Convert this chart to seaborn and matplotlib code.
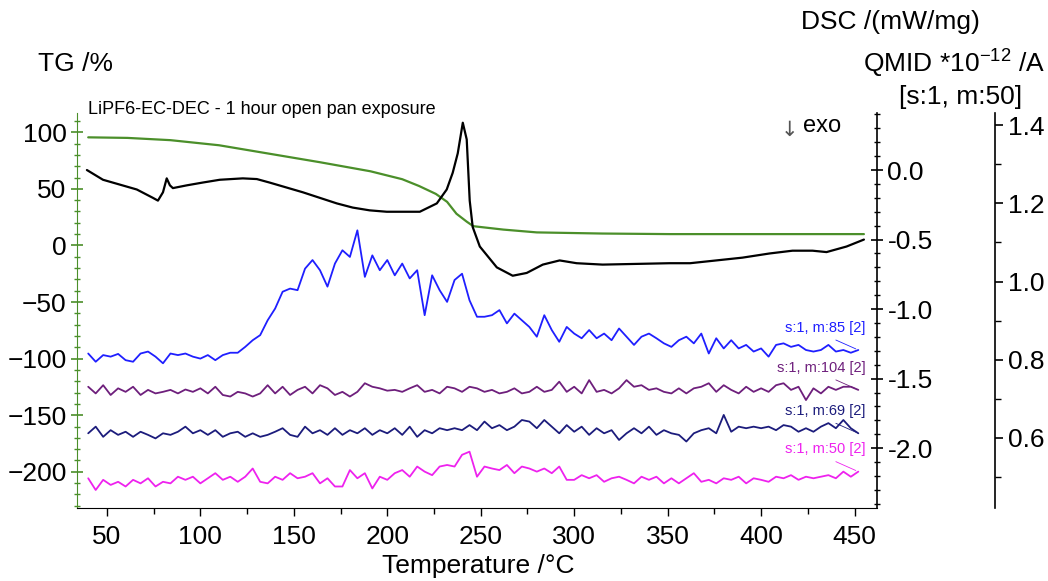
import numpy as np
import pandas as pd
import seaborn as sns
import matplotlib.pyplot as plt
from matplotlib.ticker import MultipleLocator

# TG curve (left axis, %)
tg_temp = [40, 61, 84, 110, 137, 164, 191, 208, 217, 226, 232, 237, 242.5, 246, 262, 280, 315, 351, 400, 455]
tg_pct = [95.5, 95, 93, 88.5, 81, 73.5, 65.5, 58.5, 52.5, 45.5, 38.5, 28, 21, 17, 14, 11.5, 10.5, 10, 10, 10]

# DSC curve (mW/mg)
dsc_temp = [39.3, 47.9, 66, 74.6, 77.3, 80, 82, 83.7, 85.3, 92.8, 101.3, 110.4, 122.7, 130.2, 137,
            154.8, 173, 181.5, 190.6, 199.7, 217.4, 226.5, 231.8, 235, 237.7, 240.4, 242.5, 244.1,
            245.7, 249.5, 258.6, 267.1, 274.6, 283.2, 292.2, 301.3, 315.2, 351, 362, 390, 404.5,
            416.8, 427.5, 435, 445.7, 455]
dsc_val = [0.0, -0.07, -0.14, -0.2, -0.22, -0.16, -0.06, -0.11, -0.13, -0.11, -0.09, -0.07, -0.06,
           -0.065, -0.09, -0.16, -0.24, -0.27, -0.29, -0.30, -0.30, -0.24, -0.14, -0.02, 0.12, 0.34,
           0.22, -0.22, -0.41, -0.55, -0.70, -0.76, -0.74, -0.68, -0.65, -0.67, -0.68, -0.67, -0.67,
           -0.63, -0.60, -0.58, -0.58, -0.59, -0.55, -0.50]

# QMID ion currents (*10^-12 A), sampled every 4 degC from 40 to 452
ms_temp = list(range(40, 453, 4))
m85 = [0.816, 0.795, 0.812, 0.808, 0.815, 0.799, 0.795, 0.816, 0.821, 0.808,
       0.791, 0.816, 0.812, 0.816, 0.808, 0.803, 0.812, 0.799, 0.812, 0.818,
       0.818, 0.833, 0.850, 0.863, 0.901, 0.931, 0.974, 0.982, 0.978, 1.033,
       1.055, 1.029, 0.987, 1.046, 1.080, 1.063, 1.131, 1.012, 1.067, 1.029,
       1.055, 1.016, 1.046, 1.008, 1.029, 0.914, 1.016, 0.978, 0.948, 1.004,
       1.020, 0.952, 0.910, 0.910, 0.914, 0.927, 0.893, 0.918, 0.901, 0.884,
       0.859, 0.914, 0.876, 0.846, 0.884, 0.867, 0.855, 0.876, 0.855, 0.867,
       0.850, 0.880, 0.859, 0.838, 0.859, 0.867, 0.855, 0.842, 0.833, 0.850,
       0.859, 0.842, 0.867, 0.816, 0.855, 0.829, 0.850, 0.829, 0.838, 0.821,
       0.829, 0.808, 0.838, 0.842, 0.833, 0.838, 0.825, 0.821, 0.825, 0.838,
       0.821, 0.825, 0.818, 0.825]
m104 = [0.731, 0.714, 0.735, 0.710, 0.727, 0.718, 0.731, 0.710, 0.723, 0.714,
        0.718, 0.723, 0.714, 0.724, 0.718, 0.727, 0.714, 0.731, 0.710, 0.706,
        0.718, 0.714, 0.706, 0.714, 0.735, 0.714, 0.731, 0.710, 0.723, 0.731,
        0.714, 0.735, 0.727, 0.710, 0.718, 0.706, 0.718, 0.740, 0.731, 0.727,
        0.721, 0.723, 0.718, 0.727, 0.735, 0.718, 0.723, 0.714, 0.731, 0.727,
        0.718, 0.731, 0.727, 0.718, 0.723, 0.714, 0.718, 0.727, 0.714, 0.718,
        0.731, 0.718, 0.723, 0.744, 0.718, 0.731, 0.714, 0.748, 0.718, 0.723,
        0.714, 0.727, 0.748, 0.731, 0.735, 0.723, 0.727, 0.718, 0.714, 0.727,
        0.714, 0.727, 0.731, 0.740, 0.718, 0.735, 0.723, 0.714, 0.731, 0.718,
        0.727, 0.718, 0.735, 0.740, 0.723, 0.731, 0.697, 0.727, 0.714, 0.731,
        0.723, 0.731, 0.731, 0.723]
m69 = [0.612, 0.629, 0.603, 0.620, 0.608, 0.616, 0.603, 0.616, 0.608, 0.599,
       0.612, 0.608, 0.616, 0.629, 0.612, 0.620, 0.608, 0.620, 0.603, 0.612,
       0.616, 0.603, 0.612, 0.603, 0.608, 0.616, 0.625, 0.608, 0.603, 0.629,
       0.612, 0.620, 0.608, 0.625, 0.608, 0.620, 0.612, 0.625, 0.608, 0.620,
       0.612, 0.625, 0.608, 0.629, 0.603, 0.620, 0.612, 0.625, 0.620, 0.625,
       0.620, 0.633, 0.620, 0.642, 0.625, 0.633, 0.620, 0.629, 0.646, 0.642,
       0.625, 0.646, 0.629, 0.612, 0.633, 0.616, 0.629, 0.608, 0.625, 0.612,
       0.620, 0.595, 0.612, 0.625, 0.612, 0.629, 0.608, 0.620, 0.612, 0.608,
       0.591, 0.612, 0.620, 0.625, 0.612, 0.659, 0.616, 0.629, 0.625, 0.629,
       0.625, 0.629, 0.620, 0.633, 0.629, 0.616, 0.625, 0.616, 0.629, 0.638,
       0.625, 0.646, 0.625, 0.612]
m50 = [0.497, 0.467, 0.493, 0.480, 0.488, 0.476, 0.493, 0.484, 0.497, 0.476,
       0.488, 0.484, 0.501, 0.493, 0.501, 0.484, 0.497, 0.510, 0.493, 0.501,
       0.488, 0.501, 0.522, 0.488, 0.484, 0.501, 0.493, 0.510, 0.497, 0.501,
       0.510, 0.484, 0.497, 0.476, 0.476, 0.518, 0.497, 0.510, 0.471, 0.501,
       0.493, 0.510, 0.518, 0.501, 0.527, 0.514, 0.505, 0.527, 0.531, 0.527,
       0.557, 0.565, 0.501, 0.527, 0.522, 0.518, 0.531, 0.510, 0.527, 0.522,
       0.514, 0.522, 0.510, 0.527, 0.493, 0.493, 0.505, 0.497, 0.505, 0.488,
       0.497, 0.501, 0.493, 0.484, 0.501, 0.493, 0.501, 0.484, 0.497, 0.484,
       0.497, 0.510, 0.488, 0.493, 0.484, 0.497, 0.493, 0.501, 0.484, 0.497,
       0.493, 0.488, 0.501, 0.497, 0.505, 0.493, 0.501, 0.497, 0.501, 0.505,
       0.497, 0.514, 0.501, 0.514]

ms_labels = ["s:1, m:85 [2]", "s:1, m:104 [2]", "s:1, m:69 [2]", "s:1, m:50 [2]"]
ms_colors = ["#1f1fff", "#6e1f7c", "#1c1c7c", "#ee22ee"]
green = "#4b8f2a"

sns.set_style("white")
plt.rcParams['font.family'] = ['Liberation Sans', 'DejaVu Sans']
plt.rcParams['mathtext.fontset'] = 'custom'
plt.rcParams['mathtext.rm'] = 'Liberation Sans'
plt.rcParams['text.color'] = 'black'
plt.rcParams['xtick.color'] = 'black'
plt.rcParams['ytick.color'] = 'black'
plt.rcParams['axes.labelcolor'] = 'black'

fig = plt.figure(figsize=(10.48, 5.81), dpi=100)
ax = fig.add_axes([77/1048, 1 - 508/581, 800/1048, 395/581])
ax2 = ax.twinx()
ax3 = ax.twinx()

# TG
sns.lineplot(x=tg_temp, y=tg_pct, ax=ax, color=green, lw=1.6, estimator=None, sort=False)
ax.set_xlim(34, 462)
ax.set_ylim(-232, 117)

# DSC
sns.lineplot(x=dsc_temp, y=dsc_val, ax=ax2, color="black", lw=1.6, estimator=None, sort=False)
ax2.set_ylim(-2.43, 0.41)

# MS
ms_df = pd.DataFrame({"temp": ms_temp * 4,
                      "current": m85 + m104 + m69 + m50,
                      "ion": np.repeat(ms_labels, len(ms_temp))})
sns.lineplot(data=ms_df, x="temp", y="current", hue="ion", palette=ms_colors,
             ax=ax3, lw=1.3, estimator=None, sort=False, legend=False)
ax3.set_ylim(0.421, 1.431)
for lab, vals, c in zip(ms_labels, [m85, m104, m69, m50], ms_colors):
    ax3.annotate(lab, xy=(ms_temp[-1], vals[-1]), xytext=(5, 16), textcoords='offset points',
                 ha='right', va='center', fontsize=10.5, color=c)
    ax3.annotate('', xy=(ms_temp[-1], vals[-1]), xytext=(-18, 8), textcoords='offset points',
                 arrowprops=dict(arrowstyle='-', lw=0.6, color=c))

# axis styling
for a in (ax, ax2, ax3):
    a.set_xlabel('')
    a.set_ylabel('')
    a.spines['top'].set_visible(False)

ax.spines['right'].set_visible(False)
ax.spines['left'].set_color(green)
ax.spines['bottom'].set_color('black')
ax.xaxis.set_major_locator(MultipleLocator(50))
ax.xaxis.set_minor_locator(MultipleLocator(25))
ax.yaxis.set_major_locator(MultipleLocator(50))
ax.yaxis.set_minor_locator(MultipleLocator(10))
ax.tick_params(axis='x', which='major', direction='out', length=6, width=1, labelsize=19, bottom=True, pad=6)
ax.tick_params(axis='x', which='minor', direction='out', length=4, width=1, bottom=True)
ax.tick_params(axis='y', which='major', direction='inout', length=8, width=1.2, color=green,
               labelsize=19, left=True, labelcolor='black')
ax.tick_params(axis='y', which='minor', direction='inout', length=5, width=1, color=green, left=True)

for a in (ax2, ax3):
    a.spines['left'].set_visible(False)
    a.spines['bottom'].set_visible(False)
    a.spines['right'].set_color('black')
    a.spines['right'].set_linewidth(1.2)

ax2.yaxis.set_major_locator(MultipleLocator(0.5))
ax2.yaxis.set_minor_locator(MultipleLocator(0.1))
ax2.yaxis.set_major_formatter(lambda v, p: f"{v:.1f}")
ax2.tick_params(axis='y', which='major', direction='inout', length=8, width=1.2, labelsize=19, right=True)
ax2.tick_params(axis='y', which='minor', direction='inout', length=5, width=1, right=True)

ax3.spines['right'].set_position(('outward', 85))
ax3.yaxis.set_major_locator(MultipleLocator(0.2))
ax3.yaxis.set_minor_locator(MultipleLocator(0.1))
ax3.yaxis.set_major_formatter(lambda v, p: f"{v:.1f}")
ax3.tick_params(axis='y', which='major', direction='out', length=6, width=1.2, labelsize=19, right=True)
ax3.tick_params(axis='y', which='minor', direction='out', length=4, width=1, right=True)

# texts
fig.text(75/1048, 1 - 64/581, 'TG /%', ha='center', va='center', fontsize=19)
fig.text(890/1048, 1 - 22/581, 'DSC /(mW/mg)', ha='center', va='center', fontsize=19)
fig.text(1045/1048, 1 - 63/581, r'QMID *10$^{\mathrm{-12}}$ /A', ha='right', va='center', fontsize=19)
fig.text(961/1048, 1 - 97/581, '[s:1, m:50]', ha='center', va='center', fontsize=19)
fig.text(478/1048, 1 - 566/581, 'Temperature /°C', ha='center', va='center', fontsize=19)
fig.text(88/1048, 1 - 110/581, 'LiPF6-EC-DEC - 1 hour open pan exposure', ha='left', va='center', fontsize=13)
fig.text(781/1048, 1 - 130/581, '↓', ha='left', va='center', fontsize=15, color='#555555',
         family=['DejaVu Sans'])
fig.text(803/1048, 1 - 126/581, 'exo', ha='left', va='center', fontsize=17)

fig.savefig('out.png', dpi=100)
